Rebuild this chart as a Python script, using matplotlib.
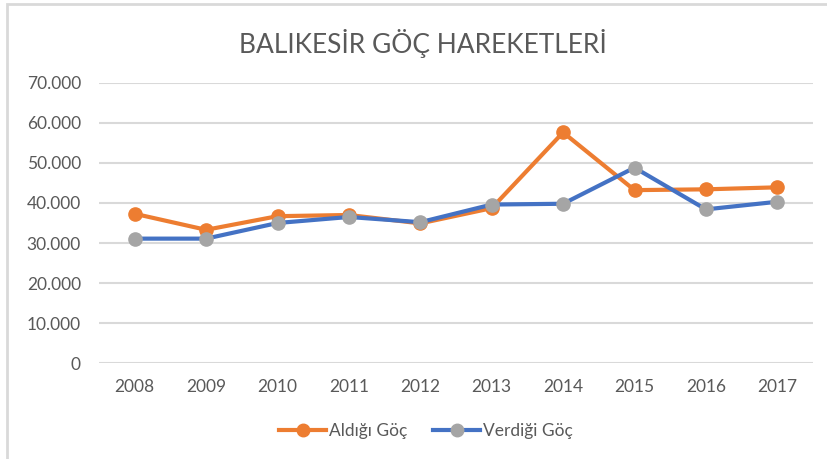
import matplotlib.pyplot as plt
from matplotlib.patches import Rectangle
from matplotlib.lines import Line2D

years = ["2008", "2009", "2010", "2011", "2012", "2013", "2014", "2015", "2016", "2017"]
aldigi = [37300, 33300, 36700, 37000, 34900, 38700, 57600, 43200, 43400, 43900]
verdigi = [31100, 31100, 35000, 36500, 35200, 39600, 39800, 48800, 38400, 40300]
yticks = [0, 10000, 20000, 30000, 40000, 50000, 60000, 70000]
ytick_labels = ["0", "10.000", "20.000", "30.000", "40.000", "50.000", "60.000", "70.000"]

W, H = 828, 459
text_col = "#595959"
plt.rcParams["font.family"] = ["Lato", "DejaVu Sans"]

fig = plt.figure(figsize=(W / 100, H / 100), dpi=100)

# chart frame
fig.patches.append(Rectangle((7 / W, -0.1), 1.2, 1 - 4 / H + 0.1, transform=fig.transFigure,
                             fill=False, edgecolor="#d9d9d9", linewidth=2))

ax = fig.add_axes([99 / W, 1 - 363.3 / H, (813 - 99) / W, (363.3 - 82.7) / H])
x = list(range(len(years)))
ax.plot(x, aldigi, color="#ED7D31", linewidth=3, marker="o", markersize=9.5,
        markerfacecolor="#ED7D31", markeredgecolor="#ED7D31", zorder=3)
ax.plot(x, verdigi, color="#4472C4", linewidth=3, marker="o", markersize=9.5,
        markerfacecolor="#A5A5A5", markeredgecolor="#A5A5A5", zorder=4)

ax.set_xlim(-0.5, len(years) - 0.5)
ax.set_ylim(0, 70000)
ax.set_yticks(yticks)
ax.set_yticklabels(ytick_labels)
ax.set_xticks(x)
ax.set_xticklabels(years)
ax.tick_params(length=0, labelsize=12.5, labelcolor=text_col)
ax.tick_params(axis="y", pad=13)
ax.tick_params(axis="x", pad=11)
ax.grid(axis="y", color="#d9d9d9", linewidth=1.5)
ax.set_axisbelow(True)
for s in ax.spines.values():
    s.set_visible(False)

fig.text(423 / W, 1 - 43 / H, "BALIKESİR GÖÇ HAREKETLERİ", ha="center", va="center",
         fontsize=19, color=text_col)

handles = [
    Line2D([], [], color="#ED7D31", linewidth=3, marker="o", markersize=9,
           markerfacecolor="#ED7D31", markeredgecolor="#ED7D31"),
    Line2D([], [], color="#4472C4", linewidth=3, marker="o", markersize=9,
           markerfacecolor="#A5A5A5", markeredgecolor="#A5A5A5"),
]
fig.legend(handles, ["Aldığı Göç", "Verdiği Göç"], loc="center", bbox_to_anchor=(426 / W, 1 - 431 / H),
           ncol=2, frameon=False, fontsize=12.5, labelcolor=text_col, handlelength=2.7,
           handletextpad=0.15, columnspacing=1.5)

fig.savefig("out.png", dpi=100)
